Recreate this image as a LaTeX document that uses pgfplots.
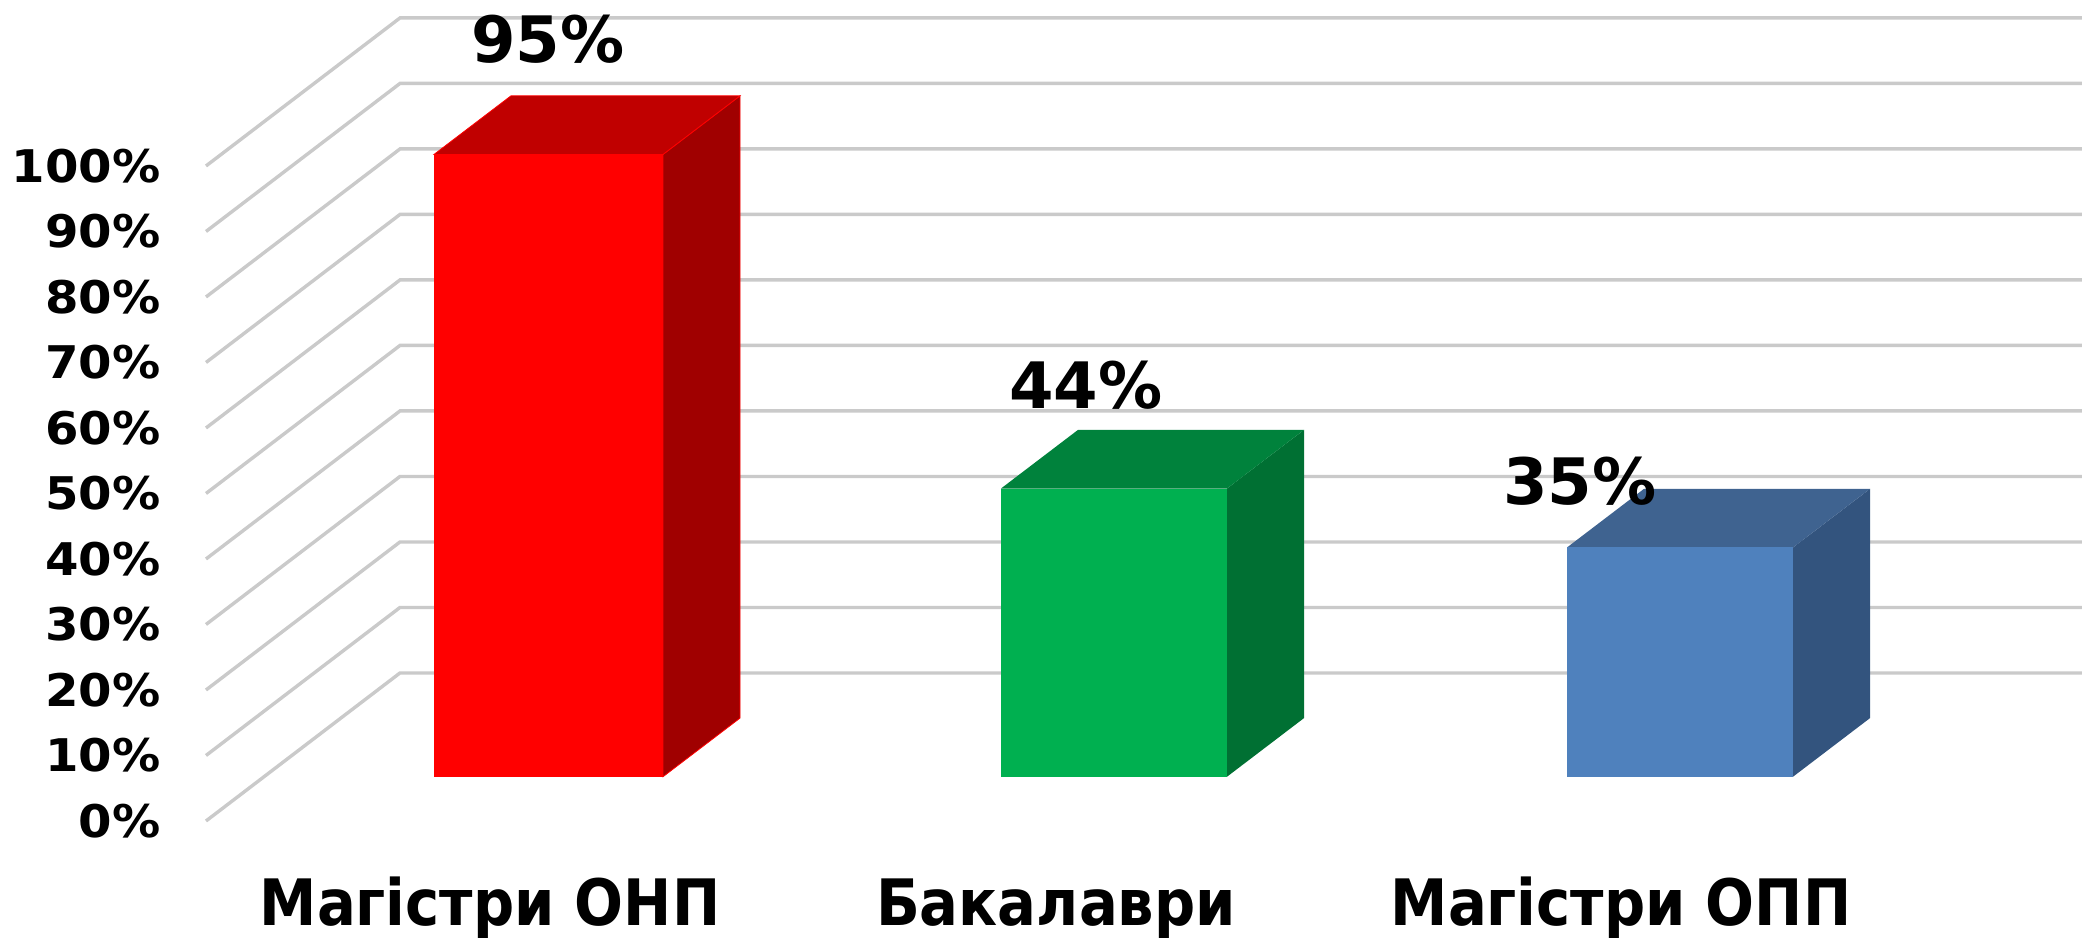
\documentclass[border=0pt]{standalone}
\usepackage{pgfplots}
\pgfplotsset{compat=1.18}
\usepackage{fontspec}
\setmainfont{DejaVu Sans}[BoldFont={DejaVu Sans Bold}]
\newfontface\catfont{DejaVu Sans Bold}[FakeStretch=0.9]
\newfontface\tickfont{DejaVu Sans Bold}[FakeStretch=1.07]
\definecolor{gridc}{HTML}{CACACA}
\definecolor{redF}{HTML}{FF0000}
\definecolor{redT}{HTML}{C00000}
\definecolor{redS}{HTML}{A00000}
\definecolor{greenF}{HTML}{00B050}
\definecolor{greenT}{HTML}{00823C}
\definecolor{greenS}{HTML}{007033}
\definecolor{blueF}{HTML}{4F81BD}
\definecolor{blueT}{HTML}{3F6390}
\definecolor{blueS}{HTML}{33547E}
\pgfplotsset{
  gl/.style={draw=gridc,line width=1.7pt,no marks,line join=miter,forget plot},
  face/.style={fill=#1,draw=none,no marks,forget plot},
  redface/.style={fill=#1,draw=redF,line width=0.4pt,no marks,forget plot}
}
\begin{document}
\begin{tikzpicture}
\begin{axis}[
  scale only axis, width=1041pt, height=468.5pt,
  xmin=0, xmax=2082, ymin=-17.71, ymax=125.34,
  axis line style={draw=none}, major tick length=0pt,
  clip=true,
  ytick={0,10,...,100},
  yticklabels={0\%,10\%,20\%,30\%,40\%,50\%,60\%,70\%,80\%,90\%,100\%},
  yticklabel style={font=\fontsize{22.5}{26}\selectfont\tickfont,anchor=east,xshift=80.5pt,inner sep=0pt},
  xtick={490,1056,1621},
  xticklabels={Магістри ОНП,Бакалаври,Магістри ОПП},
  xticklabel style={font=\fontsize{32}{36}\selectfont\catfont,anchor=base,yshift=6pt,inner sep=0pt},
]
\addplot[gl] coordinates {(206,0) (400,22.6) (2082,22.6)};
\addplot[gl] coordinates {(206,10) (400,32.6) (2082,32.6)};
\addplot[gl] coordinates {(206,20) (400,42.6) (2082,42.6)};
\addplot[gl] coordinates {(206,30) (400,52.6) (2082,52.6)};
\addplot[gl] coordinates {(206,40) (400,62.6) (2082,62.6)};
\addplot[gl] coordinates {(206,50) (400,72.6) (2082,72.6)};
\addplot[gl] coordinates {(206,60) (400,82.6) (2082,82.6)};
\addplot[gl] coordinates {(206,70) (400,92.6) (2082,92.6)};
\addplot[gl] coordinates {(206,80) (400,102.6) (2082,102.6)};
\addplot[gl] coordinates {(206,90) (400,112.6) (2082,112.6)};
\addplot[gl] coordinates {(206,100) (400,122.6) (2082,122.6)};
% bar 1: 95
\addplot[redface=redS] coordinates {(663,6.76) (740,15.71) (740,110.71) (663,101.76)} -- cycle;
\addplot[redface=redT] coordinates {(434,101.76) (511,110.71) (740,110.71) (663,101.76)} -- cycle;
\addplot[face=redF] coordinates {(434,6.76) (663,6.76) (663,101.76) (434,101.76)} -- cycle;
% bar 2: 44
\addplot[face=greenS] coordinates {(1227,6.76) (1304,15.71) (1304,59.71) (1227,50.76)} -- cycle;
\addplot[face=greenT] coordinates {(1001,50.76) (1078,59.71) (1304,59.71) (1227,50.76)} -- cycle;
\addplot[face=greenF] coordinates {(1001,6.76) (1227,6.76) (1227,50.76) (1001,50.76)} -- cycle;
% bar 3: 35
\addplot[face=blueS] coordinates {(1793,6.76) (1870,15.71) (1870,50.71) (1793,41.76)} -- cycle;
\addplot[face=blueT] coordinates {(1567,41.76) (1644,50.71) (1870,50.71) (1793,41.76)} -- cycle;
\addplot[face=blueF] coordinates {(1567,6.76) (1793,6.76) (1793,41.76) (1567,41.76)} -- cycle;
\node[font=\fontsize{32}{36}\selectfont\bfseries,inner sep=0pt] at (axis cs:548,119.3) {95\%};
\node[font=\fontsize{32}{36}\selectfont\bfseries,inner sep=0pt] at (axis cs:1086,66.6) {44\%};
\node[font=\fontsize{32}{36}\selectfont\bfseries,inner sep=0pt] at (axis cs:1580,51.9) {35\%};
\end{axis}
\pgfresetboundingbox
\path[use as bounding box] (0,0) rectangle (1041pt,468.5pt);
\end{tikzpicture}
\end{document}
